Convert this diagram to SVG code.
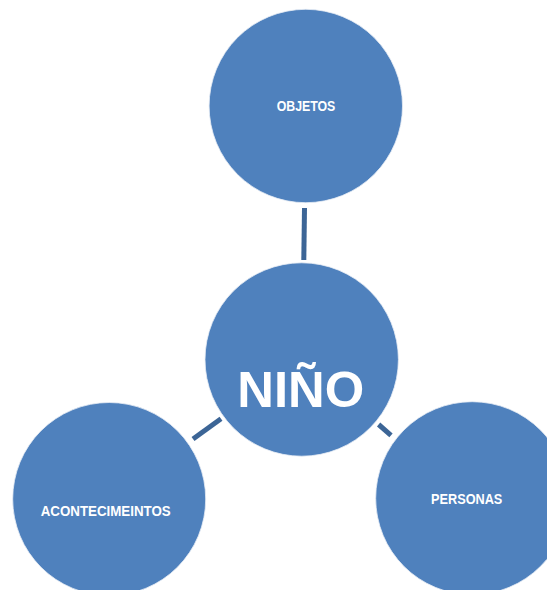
<svg xmlns="http://www.w3.org/2000/svg" width="547" height="590" viewBox="0 0 547 590">
<style>
.node{fill:#4F81BD;stroke:#E8EEF5;stroke-width:0.8}
.lbl{fill:#FFFFFF;font-family:"Liberation Sans","Open Sans",Arial,sans-serif;font-weight:bold;text-anchor:middle}
.conn{stroke:#3C6596;stroke-width:5;fill:none}
</style>
<rect width="547" height="590" fill="#FFFFFF"/>
<g id="connectors">
<line class="conn" x1="304.5" y1="208" x2="303.8" y2="260"/>
<line class="conn" x1="193" y1="439" x2="221" y2="418.7"/>
<line class="conn" x1="378.6" y1="424.5" x2="391" y2="435.3"/>
</g>
<g id="node-objetos">
<circle class="node" cx="305.8" cy="106" r="96.7"/>
<text class="lbl" x="306" y="111" font-size="14" textLength="58.7" lengthAdjust="spacingAndGlyphs">OBJETOS</text>
</g>
<g id="node-nino">
<circle class="node" cx="301.7" cy="359.5" r="96.7"/>
<text class="lbl" x="300.8" y="407.3" font-size="50" textLength="127" lengthAdjust="spacingAndGlyphs">NIÑO</text>
</g>
<g id="node-acontecimeintos">
<circle class="node" cx="109.2" cy="499" r="96.5"/>
<text class="lbl" x="105.7" y="515.7" font-size="14.5" textLength="130" lengthAdjust="spacingAndGlyphs">ACONTECIMEINTOS</text>
</g>
<g id="node-personas">
<circle class="node" cx="472.2" cy="498.2" r="96.5"/>
<text class="lbl" x="466.7" y="504.3" font-size="14.5" textLength="71.3" lengthAdjust="spacingAndGlyphs">PERSONAS</text>
</g>
</svg>
